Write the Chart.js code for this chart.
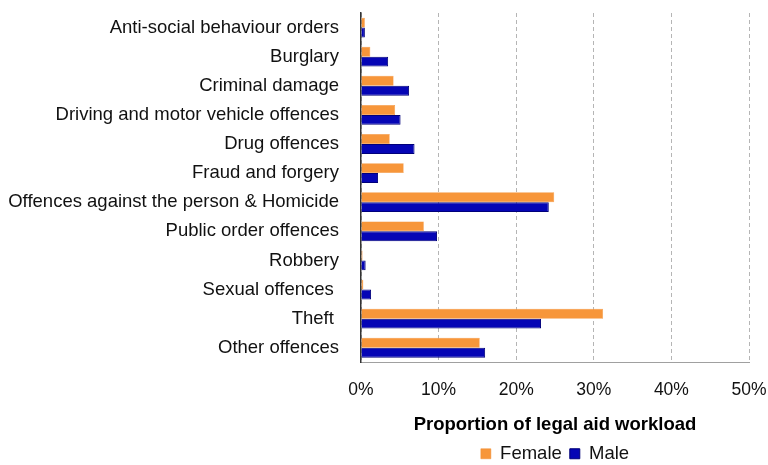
<!DOCTYPE html>
<html>
<head>
<meta charset="utf-8">
<script src="https://cdn.jsdelivr.net/npm/chart.js@4.4.1/dist/chart.umd.min.js"></script>
<style>
html,body{margin:0;padding:0;background:#fff;}
#wrap{width:768px;height:465px;position:relative;}
</style>
</head>
<body>
<div id="wrap"><canvas id="c" width="768" height="465"></canvas></div>
<script>
const categories = [
  "Anti-social behaviour orders",
  "Burglary",
  "Criminal damage",
  "Driving and motor vehicle offences",
  "Drug offences",
  "Fraud and forgery",
  "Offences against the person & Homicide",
  "Public order offences",
  "Robbery",
  "Sexual offences ",
  "Theft ",
  "Other offences"
];
const femaleValues = [0.5, 1.2, 4.2, 4.4, 3.7, 5.5, 24.9, 8.1, 0.2, 0.3, 31.2, 15.3];
const maleValues   = [0.5, 3.5, 6.2, 5.1, 6.9, 2.2, 24.2, 9.8, 0.6, 1.3, 23.2, 16.0];
const xTicks = [0, 10, 20, 30, 40, 50];

const FONT = "'Liberation Sans', Arial, sans-serif";

new Chart(document.getElementById('c'), {
  type: 'bar',
  data: {
    labels: categories,
    datasets: [
      {label: 'Female', data: femaleValues, backgroundColor: '#F7963A', borderColor: '#F08C30', borderWidth: 0.5},
      {label: 'Male', data: maleValues, backgroundColor: '#0505B5', borderColor: '#00007A', borderWidth: 1}
    ]
  },
  options: {
    indexAxis: 'y',
    responsive: false,
    animation: false,
    datasets: {bar: {categoryPercentage: 0.68, barPercentage: 1.0}},
    layout: {padding: {left: 0, right: 0, top: 13, bottom: -8}},
    plugins: {
      legend: {
        position: 'bottom',
        fullSize: false,
        labels: {
          boxWidth: 10, boxHeight: 10, padding: 8,
          color: '#111',
          font: {family: FONT, size: 18.5}
        }
      },
      tooltip: {enabled: false}
    },
    scales: {
      x: {
        min: 0, max: 50,
        afterBuildTicks: (s) => { s.ticks = xTicks.map(v => ({value: v})); },
        afterFit: (s) => { s.paddingLeft = 0; s.paddingRight = 19; },
        ticks: {
          callback: (v) => v + '%',
          color: '#111',
          padding: 17,
          font: {family: FONT, size: 17.5}
        },
        grid: {color: '#b5b5b5', lineWidth: 1, drawTicks: false},
        border: {display: true, color: '#a0a0a0', dash: [4, 3]},
        title: {
          display: true,
          text: 'Proportion of legal aid workload',
          color: '#000',
          font: {family: FONT, size: 18.5, weight: 'bold'},
          padding: {top: -3, bottom: 0}
        }
      },
      y: {
        grid: {display: false},
        border: {display: true, color: '#333', width: 1.5},
        afterFit: (s) => { s.width = 361; s.paddingTop = 0; s.paddingBottom = 0; },
        ticks: {
          color: '#111',
          padding: 14,
          font: {family: FONT, size: 18.5}
        }
      }
    }
  }
});
</script>
</body>
</html>
